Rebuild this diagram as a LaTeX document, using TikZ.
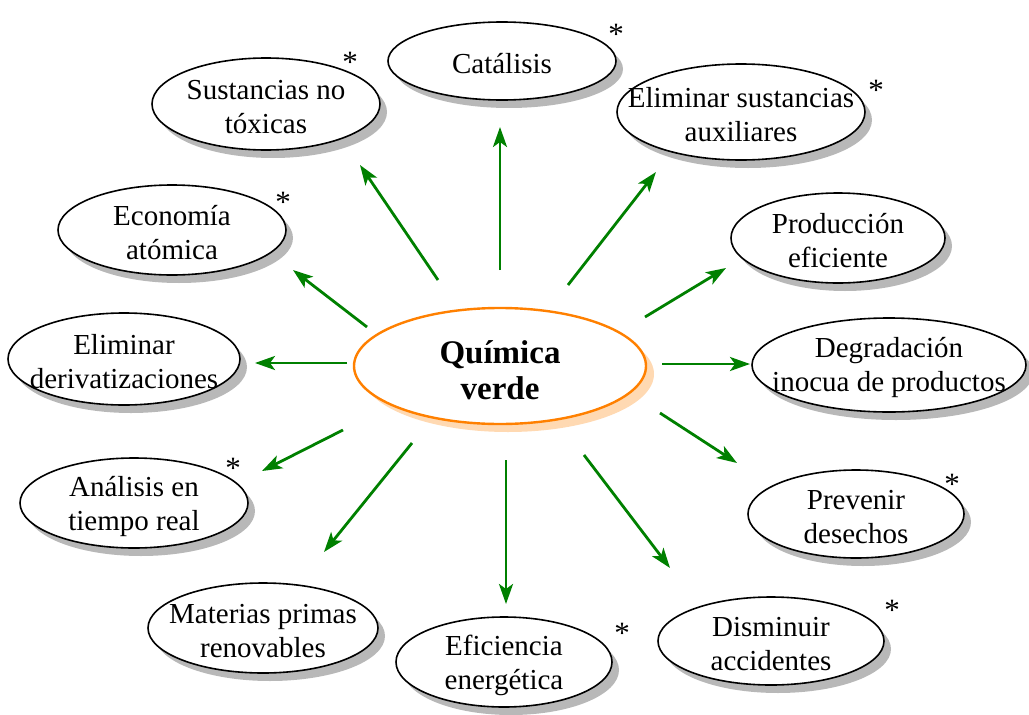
\documentclass[tikz,border=0pt]{standalone}
\usepackage{fontspec}
\setmainfont{Liberation Serif}
\usetikzlibrary{shapes.geometric}
\usetikzlibrary{shadows}
\usetikzlibrary{arrows.meta}

\begin{document}
\begin{tikzpicture}
		[x=1pt,y=-1pt,
		oval/.style={ellipse,draw,line width=1.6pt,fill=white,inner sep=0pt,
			drop shadow={shadow xshift=7pt,shadow yshift=-8pt,fill=black!28,opacity=1}},
		every label/.style={align=center,yshift=-3pt,font=\fontsize{29}{34}\selectfont},
		link/.style={draw=green!50!black,line width=2.8pt,-{Stealth[length=20pt,width=14pt,inset=5pt]}},
		astk/.style={font=\fontsize{31}{32}\selectfont,inner sep=0pt}]
		\useasboundingbox (0,0) rectangle (1029,715);
		% centre
		\node [ellipse,draw=orange,line width=2.4pt,fill=white,inner sep=0pt,
			minimum width=292pt,minimum height=116pt,
			drop shadow={shadow xshift=8pt,shadow yshift=-8pt,fill=orange!30,opacity=1},
			label={[yshift=-1pt,font=\bfseries\fontsize{33}{36}\selectfont]center:Química\\verde}] (qv) at (500,366) {};
		% outer ellipses
		\node [oval,minimum width=228pt,minimum height=78pt,label={[yshift=0pt]center:Catálisis}] (cat) at (502,61) {};
		\node [oval,minimum width=228pt,minimum height=92pt,label=center:{Sustancias no\\tóxicas}] (snt) at (266,104) {};
		\node [oval,minimum width=248pt,minimum height=96pt,label=center:{Eliminar sustancias\\auxiliares}] (esa) at (741,112) {};
		\node [oval,minimum width=228pt,minimum height=90pt,label=center:{Economía\\atómica}] (eco) at (172,230) {};
		\node [oval,minimum width=214pt,minimum height=90pt,label=center:{Producción\\eficiente}] (pef) at (838,238) {};
		\node [oval,minimum width=232pt,minimum height=92pt,label=center:{Eliminar\\derivatizaciones}] (eld) at (124,359) {};
		\node [oval,minimum width=274pt,minimum height=94pt,label=center:{Degradación\\inocua de productos}] (dip) at (889,365) {};
		\node [oval,minimum width=228pt,minimum height=90pt,label=center:{Análisis en\\tiempo real}] (atr) at (134,503) {};
		\node [oval,minimum width=216pt,minimum height=88pt,label=center:{Prevenir\\desechos}] (pde) at (856,514) {};
		\node [oval,minimum width=230pt,minimum height=90pt,label=center:{Materias primas\\renovables}] (mpr) at (263,628) {};
		\node [oval,minimum width=216pt,minimum height=90pt,label=center:{Eficiencia\\energética}] (efe) at (504,662) {};
		\node [oval,minimum width=226pt,minimum height=88pt,label=center:{Disminuir\\accidentes}] (dac) at (771,641) {};
		% asterisks
		\node [astk] (s1) at (616,34) {*};
		\node [astk] (s2) at (350,62) {*};
		\node [astk] (s3) at (876,90) {*};
		\node [astk] (s4) at (283,202) {*};
		\node [astk] (s5) at (233,468) {*};
		\node [astk] (s6) at (952,484) {*};
		\node [astk] (s7) at (622,633) {*};
		\node [astk] (s8) at (892,610) {*};
		% arrows
		\coordinate (t1) at (500,270);  \coordinate (h1) at (500,127);
		\coordinate (t2) at (438,280);  \coordinate (h2) at (360,165);
		\coordinate (t3) at (568,285);  \coordinate (h3) at (656,172);
		\coordinate (t4) at (367,327);  \coordinate (h4) at (293,270);
		\coordinate (t5) at (645,317);  \coordinate (h5) at (726,268);
		\coordinate (t6) at (347,363);  \coordinate (h6) at (255,363);
		\coordinate (t7) at (662,364);  \coordinate (h7) at (750,364);
		\coordinate (t8) at (343,430);  \coordinate (h8) at (262,471);
		\coordinate (t9) at (660,413);  \coordinate (h9) at (737,463);
		\coordinate (t10) at (412,443); \coordinate (h10) at (324,552);
		\coordinate (t11) at (506,460); \coordinate (h11) at (506,604);
		\coordinate (t12) at (584,455); \coordinate (h12) at (670,568);
		\foreach \i in {1,...,12}
			\draw [link] (t\i) -- (h\i);
	\end{tikzpicture}
\end{document}
